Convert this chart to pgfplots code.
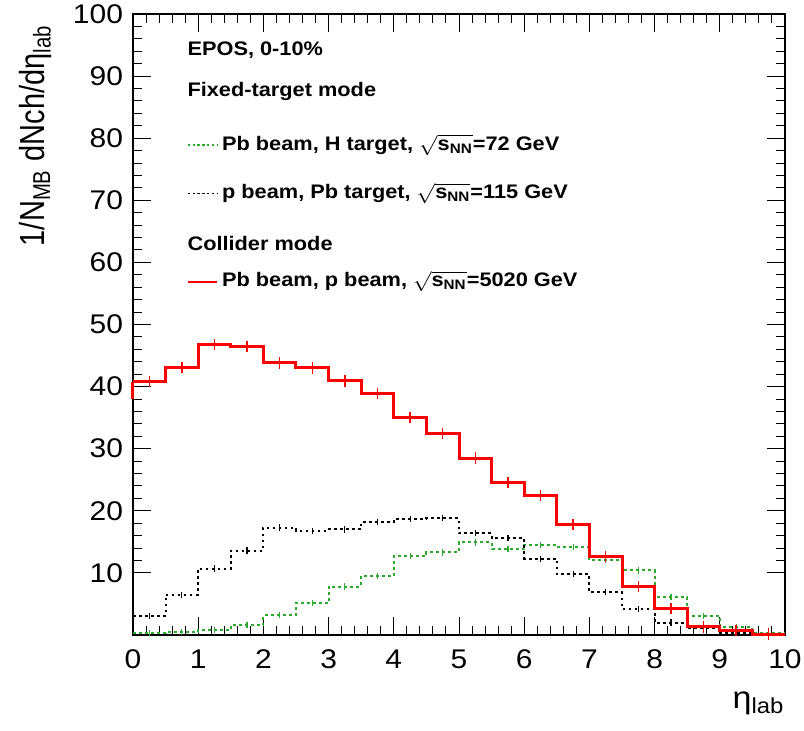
\documentclass[border=0pt]{standalone}
\usepackage{fontspec}
\setmainfont{Liberation Sans}
\usepackage{pgfplots}
\usepackage{pgfplotstable}
\pgfplotsset{compat=1.18}
\definecolor{rootgreen}{RGB}{45,170,45}
\definecolor{rootred}{RGB}{255,0,0}
\newcommand\lf{\fontsize{9.8}{11}\selectfont\bfseries}
\newcommand\snn{$\sqrt{\mbox{s\textsubscript{NN}}}$}

\pgfplotstableread{
x y
0 40.8
0.5 43.1
1 46.8
1.5 46.4
2 43.8
2.5 43.0
3 40.9
3.5 38.9
4 35.0
4.5 32.4
5 28.5
5.5 24.6
6 22.5
6.5 17.8
7 12.7
7.5 7.8
8 4.2
8.5 1.3
9 0.7
9.5 0.15
10 0.15
}\redtab

\pgfplotstableread{
x y
0 3.1
0.5 6.5
1 10.7
1.5 13.6
2 17.3
2.5 16.8
3 17.0
3.5 18.2
4 18.7
4.5 18.8
5 16.4
5.5 15.6
6 12.3
6.5 9.8
7 6.9
7.5 4.2
8 2.0
8.5 1.2
9 0.4
9.5 0.1
10 0.1
}\blacktab

\pgfplotstableread{
x y
0 0.3
0.5 0.5
1 0.8
1.5 1.6
2 3.2
2.5 5.1
3 7.8
3.5 9.5
4 12.7
4.5 13.3
5 14.9
5.5 13.8
6 14.5
6.5 14.2
7 12.1
7.5 10.4
8 6.1
8.5 3.0
9 1.3
9.5 0.4
10 0.4
}\greentab

\begin{document}
\begin{tikzpicture}
\begin{axis}[
  scale only axis, width=326pt, height=310.5pt,
  xmin=0, xmax=10, ymin=0, ymax=100,
  xtick={0,1,...,10}, ytick={10,20,...,100},
  minor x tick num=4, minor y tick num=4,
  tick align=inside,
  major tick length=9pt, minor tick length=4.5pt,
  axis line style={black, line width=0.6pt},
  every tick/.style={black, line width=0.5pt},
  /pgf/number format/assume math mode=true,
  ticklabel style={font=\fontsize{13.5}{15}\selectfont, xscale=1.11},
  xticklabel style={yshift=-4pt},
  yticklabel style={xshift=-1pt},
  clip=false,
]
% histograms
\addplot[const plot mark left, rootgreen, line width=1pt, dash pattern=on 1.5pt off 1.5pt] table[x=x,y=y] {\greentab};
\addplot[const plot mark left, black, line width=1pt, dash pattern=on 1.3pt off 1.7pt] table[x=x,y=y] {\blacktab};
\addplot[const plot mark left, rootred, line width=1.5pt] table[x=x,y=y] {\redtab};
\addplot[rootred, line width=1.5pt] coordinates {(0,38) (0,40.8)};
% error bars at bin centres
\addplot[only marks, mark=*, mark size=0pt, mark options={draw=none, fill=none}, restrict x to domain=0:9.9,
  error bars/.cd, y dir=both, y fixed=0.5, error mark=none,
  error bar style={draw=rootgreen, line width=0.6pt}]
  table[x expr=\thisrow{x}+0.25, y=y] {\greentab};
\addplot[only marks, mark=*, mark size=0pt, mark options={draw=none, fill=none}, restrict x to domain=0:9.9,
  error bars/.cd, y dir=both, y fixed=0.5, error mark=none,
  error bar style={draw=black, line width=0.6pt}]
  table[x expr=\thisrow{x}+0.25, y=y] {\blacktab};
\addplot[only marks, mark=*, mark size=0pt, mark options={draw=none, fill=none}, restrict x to domain=0:9.9,
  error bars/.cd, y dir=both, y fixed=0.9, error mark=none,
  error bar style={draw=rootred, line width=0.7pt}]
  table[x expr=\thisrow{x}+0.25, y=y] {\redtab};

% legend
\node[anchor=west, inner sep=0, font=\lf, xscale=1.11] at (axis cs:0.83,94.2) {EPOS, 0-10\%};
\node[anchor=west, inner sep=0, font=\lf, xscale=1.11] at (axis cs:0.83,87.5) {Fixed-target mode};
\node[anchor=west, inner sep=0, font=\lf, xscale=1.11] at (axis cs:1.36,78.9) {Pb beam, H target, \snn=72 GeV};
\node[anchor=west, inner sep=0, font=\lf, xscale=1.11] at (axis cs:1.36,71.1) {p beam, Pb target, \snn=115 GeV};
\node[anchor=west, inner sep=0, font=\lf, xscale=1.11] at (axis cs:0.83,63.1) {Collider mode};
\node[anchor=west, inner sep=0, font=\lf, xscale=1.11] at (axis cs:1.36,56.9) {Pb beam, p beam, \snn=5020 GeV};
\coordinate (g1) at (axis cs:0.84,78.9);
\coordinate (g2) at (axis cs:1.29,78.9);
\coordinate (k1) at (axis cs:0.84,71.1);
\coordinate (k2) at (axis cs:1.29,71.1);
\coordinate (r1) at (axis cs:0.84,56.9);
\coordinate (r2) at (axis cs:1.29,56.9);

% axis labels
\node[anchor=base east, rotate=90, inner sep=0, font=\fontsize{14.5}{17}\selectfont]
  at ([xshift=-44pt, yshift=-5.5pt]rel axis cs:0,1) {\scalebox{1}[1.2]{1/N\textsubscript{MB} dNch/dη\textsubscript{lab}}};
\node[anchor=north east, inner sep=0, xscale=1.1, font=\fontsize{15.5}{17}\selectfont]
  at ([yshift=-28pt]rel axis cs:1,0) {η\textsubscript{lab}};

\coordinate (bl) at (rel axis cs:0,0);
\coordinate (tr) at (rel axis cs:1,1);
\end{axis}
\draw[rootgreen, line width=0.7pt, dash pattern=on 1.2pt off 1.2pt] (g1) -- (g2);
\draw[black, line width=0.7pt, dash pattern=on 1.2pt off 1.2pt] (k1) -- (k2);
\draw[color=rootred, line width=1.1pt] (r1) -- (r2);
\pgfresetboundingbox
\path[use as bounding box] ([xshift=-66.5pt, yshift=-48pt]bl) rectangle ([xshift=9.5pt, yshift=7pt]tr);
\end{tikzpicture}
\end{document}
